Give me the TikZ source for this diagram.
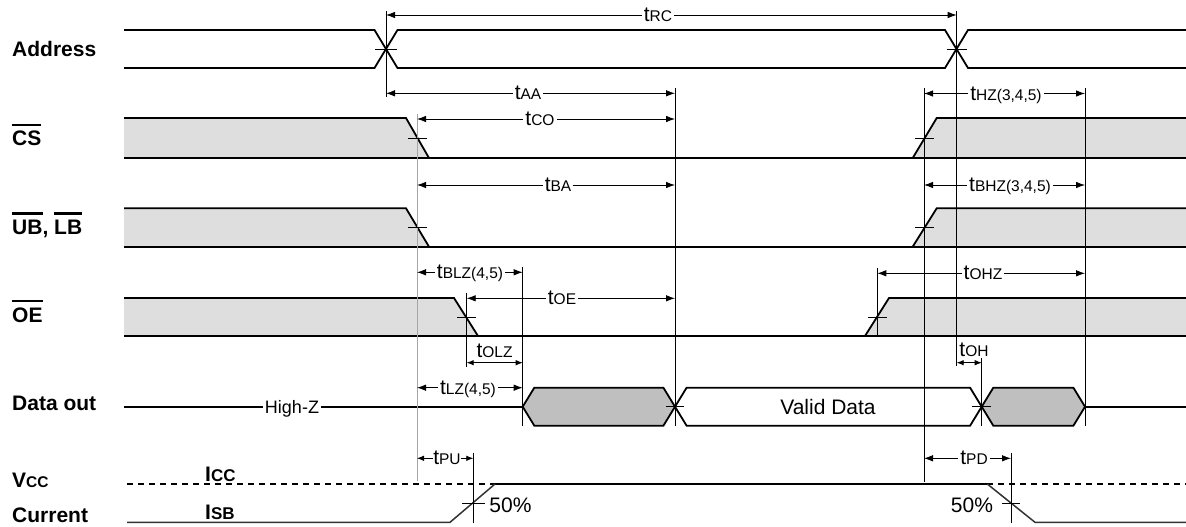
\documentclass[tikz,border=0pt]{standalone}
\usepackage{fontspec}
\setmainfont{Liberation Sans}
\usetikzlibrary{arrows.meta}
\newcommand\sz[1]{{\fontsize{15.5}{16}\selectfont #1}}
\newcommand\szb[1]{{\fontsize{17}{18}\selectfont #1}}
\newcommand\ovl[1]{\vbox{\hrule height 2.2pt\kern 5pt\hbox{#1}}}
\begin{document}
\begin{tikzpicture}[x=1pt,y=-1pt,
  sig/.style={line width=1.8pt},
  cur/.style={line width=1.5pt, draw=black!80},
  vcc/.style={line width=1.5pt, dash pattern=on 5.5pt off 5.5pt},
  refl/.style={line width=0.8pt},
  grayl/.style={line width=0.8pt, draw=black!35},
  tick/.style={line width=0.8pt},
  shA/.style={fill=black!13},
  shB/.style={fill=black!25},
  dim/.style={line width=0.8pt, {Latex[length=9pt,width=6.5pt]}-{Latex[length=9pt,width=6.5pt]}},
  dimsm/.style={line width=0.8pt, {Latex[length=7pt,width=5.5pt]}-{Latex[length=7pt,width=5.5pt]}},
  lbl/.style={font=\fontsize{21}{24}\selectfont, fill=white, inner xsep=2pt, inner ysep=1pt, anchor=base},
  lbln/.style={font=\fontsize{21}{24}\selectfont, inner sep=0pt, anchor=base},
  sname/.style={font=\bfseries\fontsize{21}{24}\selectfont, anchor=base west, inner sep=0pt}
]
\useasboundingbox (0,0) rectangle (1186,527);

% ---------- signal names ----------
\node[sname] (nAddr) at (12,57) {Address};
\node[sname] (nCS) at (12,145.7) {\ovl{CS}};
\node[sname] (nUB) at (12,234) {\ovl{UB}, \ovl{LB}};
\node[sname] (nOE) at (12,322) {\ovl{OE}};
\node[sname] (nDO) at (12,410.7) {Data out};
\node[sname] (nVcc) at (12,487) {V\sz{CC}};
\node[sname] (nCur) at (12,522) {Current};

% ---------- shading ----------
\fill[shA] (124,118) -- (406,118) -- (429,158) -- (124,158) -- cycle;
\fill[shA] (912.7,158) -- (936.7,118) -- (1186,118) -- (1186,158) -- cycle;
\fill[shA] (124,208.3) -- (406,208.3) -- (429,246.7) -- (124,246.7) -- cycle;
\fill[shA] (912.7,246.7) -- (936.7,208.3) -- (1186,208.3) -- (1186,246.7) -- cycle;
\fill[shA] (124,298) -- (454,298) -- (478,336) -- (124,336) -- cycle;
\fill[shA] (865,336) -- (889,298) -- (1186,298) -- (1186,336) -- cycle;

% ---------- Address ----------
\draw[sig] (124,30) -- (374.5,30) -- (397.5,68) -- (945,68) -- (968,30) -- (1186,30);
\draw[sig] (124,68) -- (374.5,68) -- (397.5,30) -- (945,30) -- (968,68) -- (1186,68);

% ---------- CS ----------
\draw[sig] (124,118) -- (406,118) -- (429,158);
\draw[sig] (912.7,158) -- (936.7,118) -- (1186,118);
\draw[sig] (124,158) -- (1186,158);

% ---------- UB, LB ----------
\draw[sig] (124,208.3) -- (406,208.3) -- (429,246.7);
\draw[sig] (912.7,246.7) -- (936.7,208.3) -- (1186,208.3);
\draw[sig] (124,246.7) -- (1186,246.7);

% ---------- OE ----------
\draw[sig] (124,298) -- (454,298) -- (478,336);
\draw[sig] (865,336) -- (889,298) -- (1186,298);
\draw[sig] (124,336) -- (1186,336);

% ---------- Data out ----------
\draw[sig] (124,406.7) -- (522.7,406.7);
\draw[sig,shB] (522.7,406.7) -- (534.3,387.7) -- (663.4,387.7) -- (675,406.7) -- (663.4,425.7) -- (534.3,425.7) -- cycle;
\draw[sig,fill=white] (675,406.7) -- (686.6,387.7) -- (970.1,387.7) -- (981.7,406.7) -- (970.1,425.7) -- (686.6,425.7) -- cycle;
\draw[sig,shB] (981.7,406.7) -- (993.3,387.7) -- (1073.4,387.7) -- (1085,406.7) -- (1073.4,425.7) -- (993.3,425.7) -- cycle;
\draw[sig] (1085,406.7) -- (1186,406.7);

% ---------- Vcc / Current ----------
\draw[vcc] (127,484) -- (495,484);
\draw[vcc] (987.3,484) -- (1186,484);
\draw[sig] (495,484) -- (987.3,484);
\draw[cur] (127,522.3) -- (450,522.3) -- (495,484);
\draw[cur] (987.3,484) -- (1035,522.3) -- (1186,522.3);

% ---------- reference lines ----------
\draw[refl] (386,11) -- (386,97);
\draw[refl] (956.7,11) -- (956.7,366);
\draw[refl] (675,88) -- (675,426);
\draw[grayl] (417,114) -- (417,481);
\draw[refl] (924,88) -- (924,482);
\draw[refl] (1085,88) -- (1085,426);
\draw[refl] (466.7,293) -- (466.7,367);
\draw[refl] (522.7,267) -- (522.7,426);
\draw[refl] (877.3,268) -- (877.3,337);
\draw[refl] (981.7,358) -- (981.7,426);
\draw[refl] (473.3,453) -- (473.3,523);
\draw[refl] (1011,453) -- (1011,523);

% ---------- crossing ticks ----------
\draw[tick] (375,49) -- (397,49);
\draw[tick] (946.5,49) -- (967,49);
\draw[tick] (408,138) -- (427,138);
\draw[tick] (915,138) -- (934,138);
\draw[tick] (408,227.3) -- (427,227.3);
\draw[tick] (915,227.3) -- (934,227.3);
\draw[tick] (457,317) -- (476,317);
\draw[tick] (868,317) -- (887,317);
\draw[tick] (666,406.7) -- (684,406.7);
\draw[tick] (972,406.7) -- (991,406.7);
\draw[tick] (462,503) -- (485,503);
\draw[tick] (1002,503) -- (1020,503);

% ---------- dimension arrows ----------
\draw[dim] (386,15) -- (956.7,15);
\draw[dim] (386,93.3) -- (675,93.3);
\draw[dim] (417,119) -- (675,119);
\draw[dim] (924,93.5) -- (1085,93.5);
\draw[dim] (417,185) -- (675,185);
\draw[dim] (924,185) -- (1085,185);
\draw[dim] (417,272.3) -- (522.7,272.3);
\draw[dim] (466.7,298.3) -- (675,298.3);
\draw[dim] (877.3,273.3) -- (1085,273.3);
\draw[dimsm] (466.7,362.7) -- (522.7,362.7);
\draw[dimsm] (956.7,362.7) -- (981.7,362.7);
\draw[dim] (417,387.7) -- (522.7,387.7);
\draw[dimsm] (417,458.3) -- (473.3,458.3);
\draw[dim] (924,458.3) -- (1011,458.3);

% ---------- labels ----------
\node[lbl] (lRC) at (658,21.5) {t\sz{RC}};
\node[lbl] (lAA) at (528,99.8) {t\sz{AA}};
\node[lbl] (lCO) at (540,125.5) {t\sz{CO}};
\node[lbl] (lHZ) at (1006,100) {t\sz{HZ(3,4,5)}};
\node[lbl] (lBA) at (558,191.5) {t\sz{BA}};
\node[lbl] (lBHZ) at (1010,191.5) {t\sz{BHZ(3,4,5)}};
\node[lbl] (lBLZ) at (470,278.8) {t\sz{BLZ(4,5)}};
\node[lbl] (lOE) at (562,304.8) {t\sz{OE}};
\node[lbl] (lOHZ) at (983,279.8) {t\sz{OHZ}};
\node[lbln] (lOLZ) at (494.5,357) {t\sz{OLZ}};
\node[lbln] (lOH) at (974,356.7) {t\sz{OH}};
\node[lbl] (lLZ) at (468,394.2) {t\sz{LZ(4,5)}};
\node[lbl, inner xsep=0.5pt] (lPU) at (447,464.8) {t\sz{PU}};
\node[lbl] (lPD) at (974,464.8) {t\sz{PD}};
\node[lbl, font=\fontsize{18}{20}\selectfont] (lHZ2) at (292,413) {High-Z};
\node[lbln] (lVD) at (828,414.5) {Valid Data};
\node[lbln] (l50a) at (510.5,512) {50\%};
\node[lbln] (l50b) at (972,512) {50\%};
\node[sname] (lICC) at (205,481) {I\szb{CC}};
\node[sname] (lISB) at (205,519) {I\szb{SB}};
\end{tikzpicture}
\end{document}
